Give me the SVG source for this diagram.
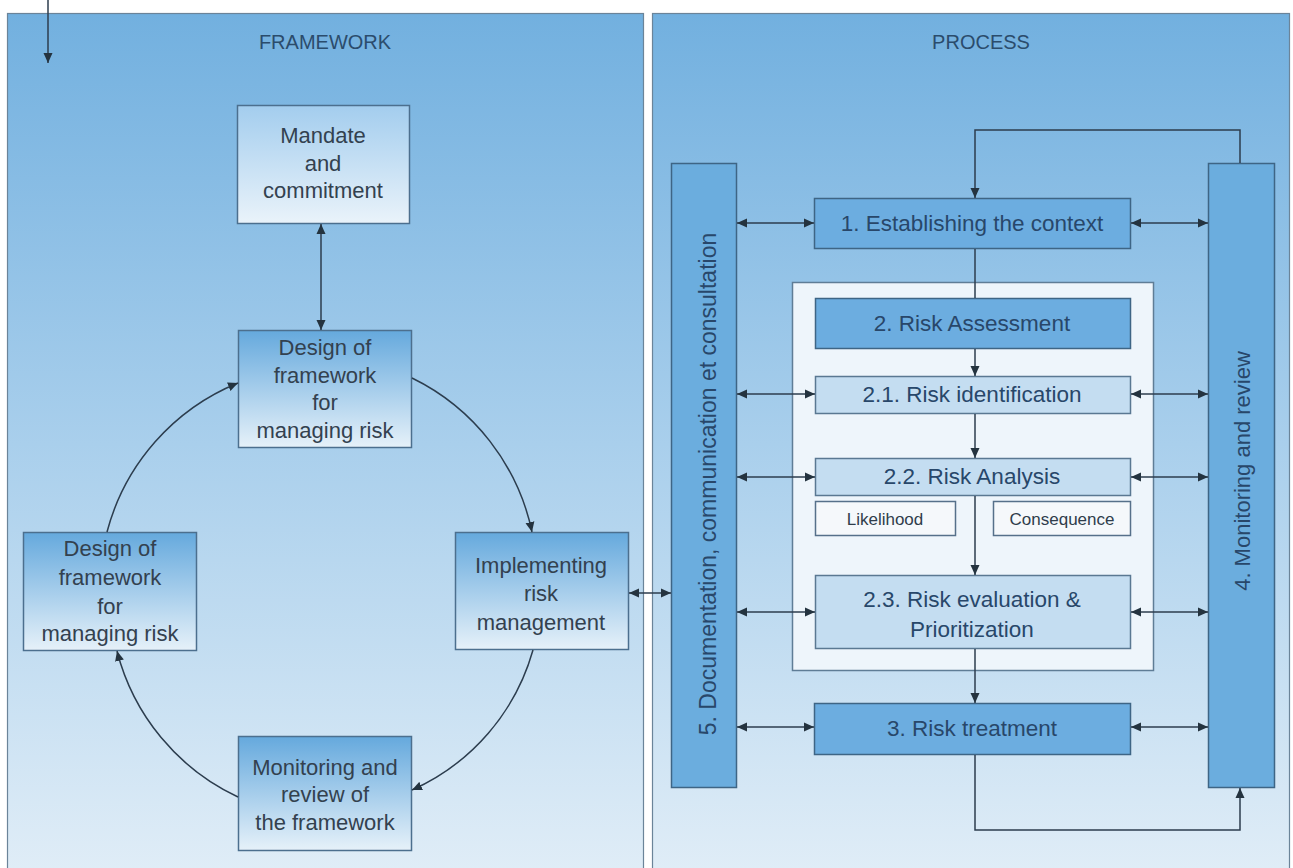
<svg xmlns="http://www.w3.org/2000/svg" width="1293" height="868" viewBox="0 0 1293 868">
  <style>
    text { font-family: "Liberation Sans", Arial, sans-serif; }
    .title { font-size: 20px; fill: #2b4c6c; text-anchor: middle; }
    .lbl { font-size: 22px; fill: #33414f; text-anchor: middle; }
    .plbl { font-size: 22.5px; fill: #28476a; text-anchor: middle; }
    .slbl { font-size: 17px; fill: #2f3d4b; text-anchor: middle; }
    .panel { stroke: #6b8499; stroke-width: 1.2; }
    .fbox { stroke: #4c6f8e; stroke-width: 1.5; }
    .dark { fill: #6cade0; stroke: #3e6585; stroke-width: 1.5; }
    .light { fill: #c4ddf1; stroke: #5a7892; stroke-width: 1.5; }
    .white { fill: #f5f8fb; stroke: #56708a; stroke-width: 1.5; }
    .bar { fill: #6badde; stroke: #3e6585; stroke-width: 1.5; }
    .link { fill: none; stroke: #2c3d4e; stroke-width: 1.5; }
  </style>
  <defs>
    <linearGradient id="panelFill" x1="0" y1="0" x2="0" y2="1">
      <stop offset="0" stop-color="#72b0df"/>
      <stop offset="0.5" stop-color="#a9cfec"/>
      <stop offset="1" stop-color="#e0edf7"/>
    </linearGradient>
    <linearGradient id="boxFill" x1="0" y1="0" x2="0" y2="1">
      <stop offset="0" stop-color="#65a9dd"/>
      <stop offset="1" stop-color="#e6f1f9"/>
    </linearGradient>
    <linearGradient id="boxFillPale" x1="0" y1="0" x2="0" y2="1">
      <stop offset="0" stop-color="#a3cdee"/>
      <stop offset="1" stop-color="#eaf3fa"/>
    </linearGradient>
    <marker id="head" viewBox="0 0 10 10" refX="10" refY="5" markerWidth="10" markerHeight="10" markerUnits="userSpaceOnUse" orient="auto-start-reverse">
      <path d="M0,0.5 L10,5 L0,9.5 z" fill="#24333f"/>
    </marker>
  </defs>

  <!-- background panels -->
  <g id="panels">
    <rect x="0" y="0" width="1293" height="868" fill="#ffffff"/>
    <rect class="panel" x="7.5" y="13.5" width="636" height="860" fill="url(#panelFill)"/>
    <rect class="panel" x="652.5" y="13.5" width="637" height="860" fill="url(#panelFill)"/>
    <rect x="792.5" y="282.5" width="361" height="388" fill="#eef5fb" stroke="#5f7d96" stroke-width="1.5"/>
  </g>

  <g id="framework-title"><text class="title" x="325" y="49">FRAMEWORK</text></g>
  <g id="process-title"><text class="title" x="981" y="49">PROCESS</text></g>

  <!-- framework cycle -->
  <g id="node-mandate">
    <rect class="fbox" x="237.5" y="105.5" width="172" height="118" fill="url(#boxFillPale)"/>
    <text class="lbl" x="323" y="143">Mandate</text>
    <text class="lbl" x="323" y="171">and</text>
    <text class="lbl" x="323" y="198">commitment</text>
  </g>
  <g id="node-design-top">
    <rect class="fbox" x="238.5" y="330.5" width="173" height="117" fill="url(#boxFill)"/>
    <text class="lbl" x="325" y="355">Design of</text>
    <text class="lbl" x="325" y="383">framework</text>
    <text class="lbl" x="325" y="410">for</text>
    <text class="lbl" x="325" y="438">managing risk</text>
  </g>
  <g id="node-design-left">
    <rect class="fbox" x="23.5" y="532.5" width="173" height="118" fill="url(#boxFill)"/>
    <text class="lbl" x="110" y="556">Design of</text>
    <text class="lbl" x="110" y="585">framework</text>
    <text class="lbl" x="110" y="614">for</text>
    <text class="lbl" x="110" y="641">managing risk</text>
  </g>
  <g id="node-implementing">
    <rect class="fbox" x="455.5" y="532.5" width="173" height="117" fill="url(#boxFill)"/>
    <text class="lbl" x="541" y="573">Implementing</text>
    <text class="lbl" x="541" y="601">risk</text>
    <text class="lbl" x="541" y="630">management</text>
  </g>
  <g id="node-monitoring-framework">
    <rect class="fbox" x="238.5" y="736.5" width="173" height="114" fill="url(#boxFill)"/>
    <text class="lbl" x="325" y="775">Monitoring and</text>
    <text class="lbl" x="325" y="802">review of</text>
    <text class="lbl" x="325" y="830">the framework</text>
  </g>

  <!-- process -->
  <g id="node-documentation">
    <rect class="bar" x="671.5" y="163.5" width="65" height="624"/>
    <text class="plbl" transform="translate(716,484) rotate(-90)" style="font-size:23px">5. Documentation, communication et consultation</text>
  </g>
  <g id="node-monitoring-review">
    <rect class="bar" x="1208.5" y="163.5" width="66" height="624"/>
    <text class="plbl" transform="translate(1250,471) rotate(-90)" style="font-size:22px">4. Monitoring and review</text>
  </g>
  <g id="node-context">
    <rect class="dark" x="814.5" y="198.5" width="316" height="50"/>
    <text class="plbl" x="972" y="231">1. Establishing the context</text>
  </g>
  <g id="node-assessment">
    <rect class="dark" x="815.5" y="298.5" width="315" height="50"/>
    <text class="plbl" x="972" y="331">2. Risk Assessment</text>
  </g>
  <g id="node-identification">
    <rect class="light" x="815.5" y="376.5" width="315" height="37"/>
    <text class="plbl" x="972" y="402">2.1. Risk identification</text>
  </g>
  <g id="node-analysis">
    <rect class="light" x="815.5" y="458.5" width="315" height="37"/>
    <text class="plbl" x="972" y="484">2.2. Risk Analysis</text>
  </g>
  <g id="node-likelihood">
    <rect class="white" x="815.5" y="501.5" width="140" height="34"/>
    <text class="slbl" x="885" y="525">Likelihood</text>
  </g>
  <g id="node-consequence">
    <rect class="white" x="993.5" y="501.5" width="137" height="34"/>
    <text class="slbl" x="1062" y="525">Consequence</text>
  </g>
  <g id="node-evaluation">
    <rect class="light" x="815.5" y="575.5" width="315" height="73"/>
    <text class="plbl" x="972" y="607">2.3. Risk evaluation &amp;</text>
    <text class="plbl" x="972" y="637">Prioritization</text>
  </g>
  <g id="node-treatment">
    <rect class="dark" x="814.5" y="703.5" width="316" height="51"/>
    <text class="plbl" x="972" y="736">3. Risk treatment</text>
  </g>

  <g id="connectors">
    <!-- entry arrow -->
    <path class="link" d="M48,0 V63" marker-end="url(#head)"/>
    <!-- framework cycle -->
    <path class="link" d="M321,224 V330" marker-start="url(#head)" marker-end="url(#head)"/>
    <path class="link" d="M412,378 A222,222 0 0,1 532,532" marker-end="url(#head)"/>
    <path class="link" d="M533,650 A218,218 0 0,1 412,790" marker-end="url(#head)"/>
    <path class="link" d="M238,797 A222,222 0 0,1 117,651" marker-end="url(#head)"/>
    <path class="link" d="M107,532 A222,222 0 0,1 238,383" marker-end="url(#head)"/>
    <path class="link" d="M629,593 H671" marker-start="url(#head)" marker-end="url(#head)"/>
    <!-- process flow -->
    <path class="link" d="M1240,163 V130 H975 V198" marker-end="url(#head)"/>
    <path class="link" d="M975,249 V298"/>
    <path class="link" d="M975,349 V376" marker-end="url(#head)"/>
    <path class="link" d="M975,414 V458" marker-end="url(#head)"/>
    <path class="link" d="M975,496 V575" marker-end="url(#head)"/>
    <path class="link" d="M975,649 V703" marker-end="url(#head)"/>
    <path class="link" d="M975,755 V830 H1240 V788" marker-end="url(#head)"/>
    <!-- links to documentation bar -->
    <path class="link" d="M737,223 H814" marker-start="url(#head)" marker-end="url(#head)"/>
    <path class="link" d="M737,394 H815" marker-start="url(#head)" marker-end="url(#head)"/>
    <path class="link" d="M737,477 H815" marker-start="url(#head)" marker-end="url(#head)"/>
    <path class="link" d="M737,612 H815" marker-start="url(#head)" marker-end="url(#head)"/>
    <path class="link" d="M737,727 H814" marker-start="url(#head)" marker-end="url(#head)"/>
    <!-- links to monitoring bar -->
    <path class="link" d="M1131,223 H1208" marker-start="url(#head)" marker-end="url(#head)"/>
    <path class="link" d="M1131,394 H1208" marker-start="url(#head)" marker-end="url(#head)"/>
    <path class="link" d="M1131,477 H1208" marker-start="url(#head)" marker-end="url(#head)"/>
    <path class="link" d="M1131,612 H1208" marker-start="url(#head)" marker-end="url(#head)"/>
    <path class="link" d="M1131,727 H1208" marker-start="url(#head)" marker-end="url(#head)"/>
  </g>
</svg>
